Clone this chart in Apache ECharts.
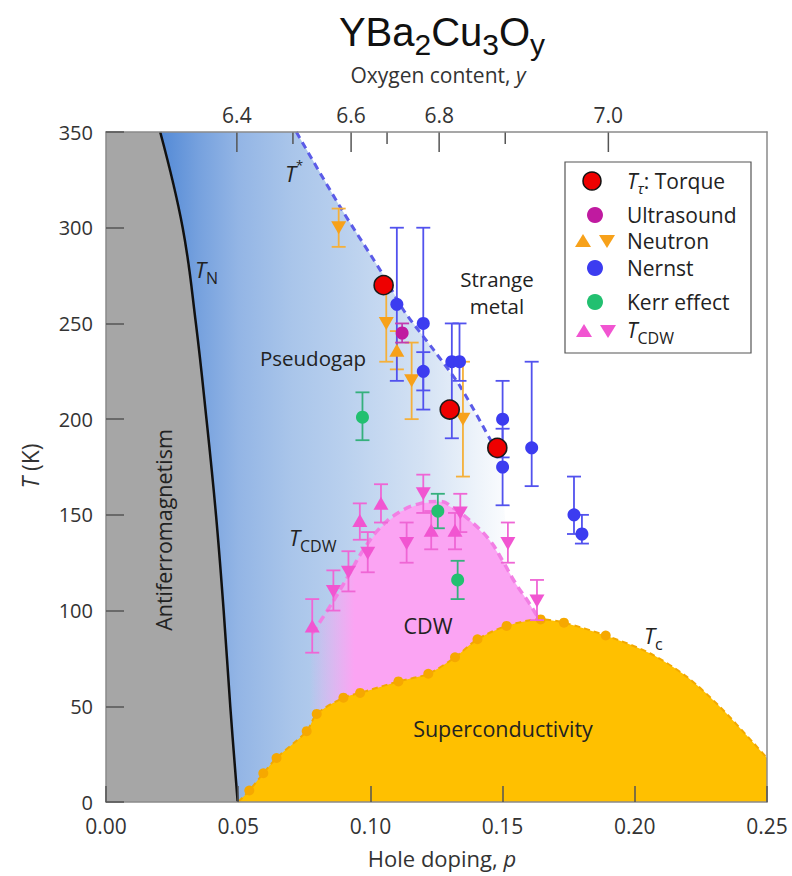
<!DOCTYPE html>
<html><head><meta charset="utf-8">
<script src="https://cdn.jsdelivr.net/npm/echarts@6/dist/echarts.min.js"></script>
<style>html,body{margin:0;padding:0;background:#fff}#c{width:792px;height:876px}</style>
</head><body><div id="c"></div>
<script>
// ---------- data ----------
const xTickValues = [0, 0.05, 0.10, 0.15, 0.20, 0.25];
const yTickValues = [0, 50, 100, 150, 200, 250, 300, 350];
const oxygenTickValue = [6.4, 6.5, 6.6, 6.7, 6.8, 6.9, 7.0];
const oxygenTickP = [0.0495, 0.0707, 0.0927, 0.1063, 0.126, 0.151, 0.190];
const oxygenMajor = [6.4, 6.6, 6.8, 7.0];

const tNCurve = [[0.0498,0],[0.047,50],[0.0445,100],[0.0416,150],[0.038,200],[0.034,250],[0.029,300],[0.0205,350]];
const tStarLine = [[0.072,350],[0.0885,311],[0.105,275],[0.1125,257],[0.124,236],[0.134,217],[0.149,180]];
const cdwDome = [[0.078,88],[0.086,105],[0.092,119],[0.097,131],[0.1035,143],[0.111,151.5],[0.119,156],[0.1263,157],[0.132,153],[0.1377,147],[0.145,137],[0.150,126],[0.155,114],[0.160,104],[0.164,95]];
const tcStart = [[0.05,0]];
const tcDots = [[0.0542,6],[0.0595,15],[0.0645,23],[0.0759,37],[0.0797,46],[0.0898,54.5],[0.0961,57],[0.1106,63],[0.1219,67],[0.132,75.6],[0.1405,85],[0.1515,92],[0.1644,95.4],[0.1732,93.7],[0.189,87]];
const tcTail = [[0.2057,77.7],[0.2196,65.5],[0.232,50],[0.2448,31],[0.25,23]];

// [p, T] and [p, T, low, high]
const torque = [[0.105,270],[0.130,205],[0.148,185]];
const ultrasound = [[0.112,245,240,250]];
const neutronDown = [[0.088,300,290,310],[0.106,250,230,270],[0.1156,220,200,240],[0.135,200,170,230]];
const neutronUp = [[0.110,236,226,246]];
const nernst = [[0.110,260,220,300],[0.120,250,205,300],[0.120,225,215,235],[0.1308,230,190,250],[0.1337,230,220,250],[0.150,200,180,220],[0.150,175,155,195],[0.161,185,165,230],[0.177,150,140,170],[0.180,140,135,150]];
const kerr = [[0.097,201,189,214],[0.1255,152,143,161],[0.133,116,106,126]];
const cdwUp = [[0.078,92,78,106],[0.096,147,137,156],[0.104,156,146,166],[0.123,142,132,152],[0.132,142,132,151]];
const cdwDown = [[0.086,110,100,121],[0.0917,120,110,131],[0.099,130,120,141],[0.1137,135,125,146],[0.120,161,151,171],[0.134,151,141,161],[0.152,135,125,146],[0.163,105,95,116]];

// ---------- styles ----------
const FONT = "'Open Sans','Noto Sans',sans-serif";
const TFONT = "'Liberation Sans',Arial,sans-serif";
const TXT = '#222';
const C = {
  red:'#ee0000', ultra:'#c01aa0', ultraBar:'#c23cb0', neut:'#f7a11a', neutBar:'#f5b03a',
  nern:'#3c3cf0', nernBar:'#5252ee', kerr:'#22c070', kerrBar:'#35b07c', cdw:'#f155d1', cdwBar:'#ef66d5',
  gray:'#a6a6a6', orange:'#ffc000', orangeEdge:'#f2a900', pink:'#fba4f3', dome:'#f27fe4', tstar:'#5b5be8'
};
const blueStops = [[0.02,'#5289d6'],[0.035,'#76a1de'],[0.05,'#93b5e5'],[0.07,'#a9c5ea'],[0.09,'#b9d0ee'],[0.12,'#d4e2f4'],[0.14,'#edf3fa'],[0.155,'#ffffff']];

const mc = document.createElement('canvas').getContext('2d');
function measure(t, s, fam, it) { mc.font = (it ? 'italic ' : '') + s + 'px ' + fam; return mc.measureText(t).width; }
function richParts(parts, x, y, align, fam, fill) {
  fam = fam || FONT; fill = fill || TXT;
  const ws = parts.map(p => measure(p.t, p.s, fam, p.i));
  const total = ws.reduce((a, b) => a + b, 0);
  let cx = align === 'center' ? x - total / 2 : (align === 'right' ? x - total : x);
  return parts.map((p, k) => {
    const el = {type:'text', x:cx, y:y + (p.dy || 0), z:100,
      style:{text:p.t, fill:p.c || fill, fontSize:p.s, fontFamily:fam, fontStyle:p.i ? 'italic' : 'normal',
        align:'left', verticalAlign:'middle', textAlign:'left', textVerticalAlign:'middle'}};
    cx += ws[k];
    return el;
  });
}
function label(t, x, y, s) { return richParts([{t:t, s:s || 20}], x, y, 'center'); }

function errSeries(data, color) {
  return {type:'custom', coordinateSystem:'cartesian2d', data:data, encode:{x:0, y:1}, silent:true, z:4,
    renderItem:function(params, api) {
      const x = api.value(0);
      const a = api.coord([x, api.value(2)]), b = api.coord([x, api.value(3)]);
      const hw = 7;
      const st = () => ({stroke:color, lineWidth:1.8});
      return {type:'group', children:[
        {type:'line', shape:{x1:a[0], y1:a[1], x2:b[0], y2:b[1]}, style:st()},
        {type:'line', shape:{x1:a[0]-hw, y1:a[1], x2:a[0]+hw, y2:a[1]}, style:st()},
        {type:'line', shape:{x1:b[0]-hw, y1:b[1], x2:b[0]+hw, y2:b[1]}, style:st()}]};
    }};
}
function scat(data, symbol, size, color, rot, extra) {
  return Object.assign({type:'scatter', data:data, encode:{x:0, y:1}, symbol:symbol, symbolSize:size, symbolRotate:rot || 0,
    itemStyle:{color:color, opacity:1}, silent:true, z:5}, extra || {});
}
function polySeries(getPts, fillFn, z) {
  return {type:'custom', coordinateSystem:'cartesian2d', data:[[0, 0]], encode:{x:0, y:1}, silent:true, z:z || 1,
    renderItem:function(params, api) {
      const pts = getPts().map(d => api.coord(d));
      return {type:'polygon', shape:{points:pts}, style:{fill:fillFn(api)}};
    }};
}

const chart = echarts.init(document.getElementById('c'), null, {renderer:'svg', width:792, height:876});

const axisLineStyle = {color:'#8a8a8a', width:1.5};
const option = {
  animation:false,
  backgroundColor:'#fff',
  grid:{left:106, right:25, top:132, bottom:74, containLabel:false, outerBoundsMode:'none'},
  xAxis:[
    {type:'value', min:0, max:0.25, interval:0.05, position:'bottom', z:10,
      axisLine:{show:true, onZero:false, lineStyle:axisLineStyle},
      axisTick:{show:true, inside:true, length:16, lineStyle:{color:'#555', width:1.5}},
      axisLabel:{formatter:v => v.toFixed(2), fontSize:21, color:'#333', margin:13, lineHeight:22, fontFamily:FONT},
      splitLine:{show:false}},
    {type:'value', min:0, max:0.25, position:'top', z:10,
      axisLine:{show:true, onZero:false, lineStyle:axisLineStyle},
      axisTick:{show:false}, axisLabel:{show:false}, splitLine:{show:false}}
  ],
  yAxis:[
    {type:'value', min:0, max:350, interval:50, z:10,
      axisLine:{show:true, onZero:false, lineStyle:axisLineStyle},
      axisTick:{show:true, inside:true, length:18, lineStyle:{color:'#555', width:1.5}},
      axisLabel:{fontSize:20, color:'#333', margin:13, lineHeight:20, fontFamily:FONT},
      splitLine:{show:false}},
    {type:'value', min:0, max:350, position:'right', z:10,
      axisLine:{show:true, onZero:false, lineStyle:axisLineStyle},
      axisTick:{show:false}, axisLabel:{show:false}, splitLine:{show:false}}
  ],
  series:[
    // pseudogap gradient region
    polySeries(() => tNCurve.concat(tStarLine, [[0.16, 0]]), api => {
      const x0 = api.coord([blueStops[0][0], 0])[0], x1 = api.coord([blueStops[blueStops.length-1][0], 0])[0];
      return new echarts.graphic.LinearGradient(x0, 0, x1, 0,
        blueStops.map(s => ({offset:(api.coord([s[0], 0])[0] - x0) / (x1 - x0), color:s[1]})), true);
    }, 1),
    // antiferromagnetic region
    polySeries(() => [[0, 0]].concat(tNCurve, [[0, 350]]), () => C.gray, 1),
    // CDW region
    polySeries(() => cdwDome.concat(tcDots.filter(d => d[0] > 0.075 && d[0] < 0.166).map(d => [d[0], d[1] - 2]).reverse()), api => {
      const x0 = api.coord([0.077, 0])[0], x1 = api.coord([0.094, 0])[0];
      return new echarts.graphic.LinearGradient(x0, 0, x1, 0,
        [{offset:0, color:'rgba(251,164,243,0)'}, {offset:1, color:C.pink}], true);
    }, 1),
    // superconducting dome
    {type:'line', data:tcStart.concat(tcDots, tcTail), smooth:0.3, showSymbol:false, symbol:'none', silent:true, z:2,
      lineStyle:{color:C.orangeEdge, width:2, type:[6, 4]}, areaStyle:{color:C.orange, opacity:1}},
    scat(tcDots, 'circle', 10, '#f6a800', 0, {z:2}),
    // T_N line
    {type:'line', data:tNCurve, smooth:0.4, showSymbol:false, symbol:'none', silent:true, z:3,
      lineStyle:{color:'#111', width:2.5}},
    // T* dashed
    {type:'line', data:tStarLine, smooth:0.3, showSymbol:false, symbol:'none', silent:true, z:3,
      lineStyle:{color:C.tstar, width:3, type:[7, 5]}},
    // CDW dome dashed
    {type:'line', data:cdwDome, smooth:0.4, showSymbol:false, symbol:'none', silent:true, z:3,
      lineStyle:{color:C.dome, width:3.5, type:[8, 5]}},
    // error bars
    errSeries(neutronDown, C.neutBar), errSeries(neutronUp, C.neutBar),
    errSeries(nernst, C.nernBar), errSeries(ultrasound, C.ultraBar),
    errSeries(kerr, C.kerrBar), errSeries(cdwUp, C.cdwBar), errSeries(cdwDown, C.cdwBar),
    // markers
    scat(neutronDown, 'triangle', [15, 13], C.neut, 180),
    scat(neutronUp, 'triangle', [15, 13], C.neut, 0),
    scat(nernst, 'circle', 13, C.nern),
    scat(ultrasound, 'circle', 13, C.ultra),
    scat(kerr, 'circle', 13, C.kerr),
    scat(cdwUp, 'triangle', [15, 13], C.cdw, 0),
    scat(cdwDown, 'triangle', [15, 13], C.cdw, 180),
    scat(torque, 'circle', 19, C.red, 0, {itemStyle:{color:C.red, opacity:1, borderColor:'#1a1a1a', borderWidth:1.6}, z:6}),
    // top axis: oxygen content
    {type:'custom', coordinateSystem:'cartesian2d', clip:false, silent:true, z:10,
      data:oxygenTickP.map((p, i) => [p, 350, i]), encode:{x:0, y:1},
      renderItem:function(params, api) {
        const i = api.value(2);
        const v = oxygenTickValue[i];
        const major = oxygenMajor.indexOf(v) >= 0;
        const pt = api.coord([api.value(0), 350]);
        const ch = [{type:'line', shape:{x1:pt[0], y1:pt[1], x2:pt[0], y2:pt[1] + (major ? 20 : 12)}, style:{stroke:'#555', lineWidth:1.5}}];
        if (major) ch.push({type:'text', x:pt[0], y:pt[1] - 17,
          style:{text:v.toFixed(1), fontSize:21, fontFamily:FONT, fill:'#333', align:'center', verticalAlign:'middle', textAlign:'center', textVerticalAlign:'middle'}});
        return {type:'group', children:ch};
      }}
  ],
  graphic:{elements:[]}
};

// ---------- texts ----------
let G = [];
// title
G = G.concat(richParts([{t:'YBa', s:40}, {t:'2', s:30, dy:12}, {t:'Cu', s:40}, {t:'3', s:30, dy:12}, {t:'O', s:40}, {t:'y', s:30, dy:12}], 442, 32, 'center', TFONT, '#111'));
G = G.concat(richParts([{t:'Oxygen content, ', s:21}, {t:'y', s:21, i:1}], 438, 75, 'center', FONT, '#333'));
G = G.concat(richParts([{t:'Hole doping, ', s:22}, {t:'p', s:22, i:1}], 442, 858, 'center', FONT, '#333'));
G.push({type:'group', x:30, y:466, rotation:Math.PI / 2, children:richParts([{t:'T', s:23, i:1}, {t:' (K)', s:23}], 0, 0, 'center', FONT, '#333')});
// region labels
G.push({type:'group', x:163, y:530, rotation:Math.PI / 2, children:label('Antiferromagnetism', 0, 0, 21.5)});
G = G.concat(label('Pseudogap', 313, 358, 20.5), label('Strange', 497, 279, 20.5), label('metal', 497, 306, 20.5),
  label('CDW', 428, 625, 21.5), label('Superconductivity', 503, 728, 21.5));
G = G.concat(richParts([{t:'T', s:22, i:1}, {t:'*', s:13, dy:-8}], 294, 173, 'center'));
G = G.concat(richParts([{t:'T', s:22, i:1}, {t:'N', s:16, dy:9}], 195, 269, 'left'));
G = G.concat(richParts([{t:'T', s:22, i:1}, {t:'CDW', s:16, dy:9}], 289, 537, 'left'));
G = G.concat(richParts([{t:'T', s:22, i:1}, {t:'c', s:16, dy:9}], 644, 635, 'left'));
// legend
G.push({type:'rect', z:90, shape:{x:565, y:162, width:186, height:191}, style:{fill:'#fff', stroke:'#555', lineWidth:1.2}});
function triUp(cx, cy, col) { return {type:'polygon', z:95, shape:{points:[[cx, cy-7], [cx+8, cy+6], [cx-8, cy+6]]}, style:{fill:col}}; }
function triDn(cx, cy, col) { return {type:'polygon', z:95, shape:{points:[[cx-8, cy-6], [cx+8, cy-6], [cx, cy+7]]}, style:{fill:col}}; }
function circ(cx, cy, r, col, stroke) { return {type:'circle', z:95, shape:{cx:cx, cy:cy, r:r}, style:{fill:col, stroke:stroke || null, lineWidth:stroke ? 1.5 : 0}}; }
G.push(circ(592, 181, 9, C.red, '#111'), circ(595, 215, 8, C.ultra), triUp(583, 241, C.neut), triDn(607, 241, C.neut),
  circ(595, 268, 8, C.nern), circ(595, 302, 8, C.kerr), triUp(584, 331, C.cdw), triDn(608, 331, C.cdw));
G = G.concat(richParts([{t:'T', s:21, i:1}, {t:'τ', s:15, i:1, dy:7}, {t:': Torque', s:21}], 627, 181, 'left'));
G = G.concat(richParts([{t:'Ultrasound', s:21}], 627, 215, 'left'));
G = G.concat(richParts([{t:'Neutron', s:21}], 627, 241, 'left'));
G = G.concat(richParts([{t:'Nernst', s:21}], 627, 268, 'left'));
G = G.concat(richParts([{t:'Kerr effect', s:21}], 627, 302, 'left'));
G = G.concat(richParts([{t:'T', s:21, i:1}, {t:'CDW', s:16, dy:8}], 627, 330, 'left'));
option.graphic.elements = G;

chart.setOption(option);
</script></body></html>
